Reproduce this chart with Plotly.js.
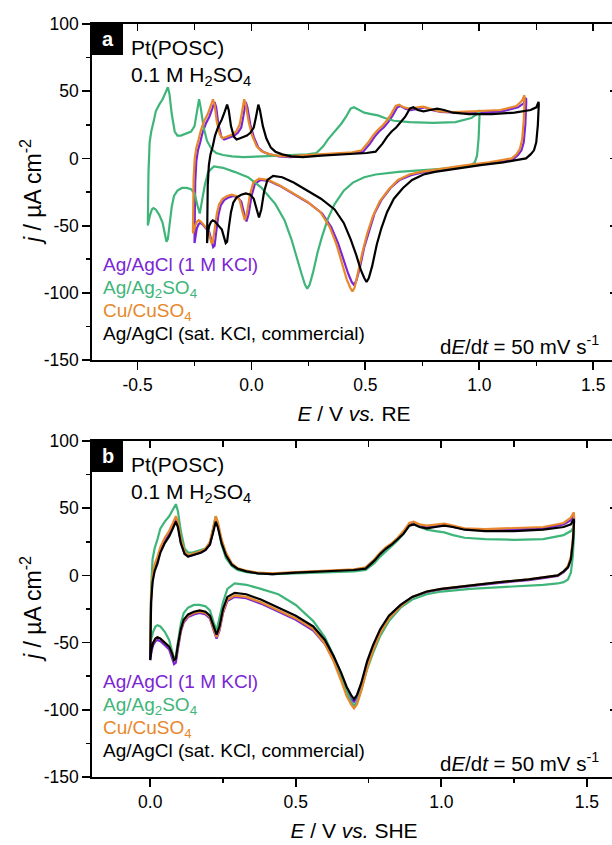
<!DOCTYPE html>
<html>
<head>
<meta charset="utf-8">
<script src="https://cdn.plot.ly/plotly-3.0.1.min.js"></script>
<style>
html,body{margin:0;padding:0;overflow:hidden;background:#fff;}
#chart{width:630px;height:845px;}
</style>
</head>
<body>
<div id="chart"></div>
<script>
// ---------------- DATA ----------------
// Potential sampling of the CV loop, vs SHE (anodic sweep 0 -> 1.455 V, then cathodic back to 0 V)
const E_SHE = [0.000,0.003,0.008,0.015,0.025,0.035,0.050,0.065,0.078,0.088,0.095,0.105,0.118,0.130,0.145,0.160,0.175,0.190,0.205,0.215,0.225,0.232,0.245,0.260,0.280,0.300,0.330,0.370,0.420,0.500,0.600,0.700,0.740,0.770,0.790,0.810,0.830,0.850,0.870,0.890,0.905,0.925,0.950,0.980,1.010,1.040,1.080,1.150,1.250,1.350,1.420,1.445,1.455,
  1.456,1.452,1.445,1.435,1.420,1.400,1.350,1.300,1.200,1.100,1.000,0.950,0.900,0.860,0.820,0.790,0.765,0.745,0.725,0.710,0.700,0.690,0.675,0.655,0.630,0.600,0.560,0.500,0.440,0.380,0.330,0.290,0.265,0.250,0.238,0.228,0.218,0.205,0.190,0.170,0.150,0.130,0.115,0.105,0.095,0.088,0.082,0.075,0.065,0.050,0.035,0.025,0.018,0.010,0.004,0.000];

// current density, µA cm^-2
const j_AgAgCl_1M = [-63,-18,-2,6,12,19,26,31,37,42,38,25,16,14,15,16,17,19,23,32,42,38,25,16,8,5,3,1.5,1,2,3,4,5,11,16,20,23,27,32,38,39,37,36,37,38,36,34.5,34,34,35,38,41,45,
  42,25,12,6,2.5,-0.5,-2,-3.5,-5.5,-8,-10.5,-12.5,-16,-22,-31,-41,-54,-66,-82,-91,-94,-92,-86,-75,-63,-51,-41,-33,-27,-21,-17,-16,-19,-28,-41,-47,-41,-32,-29,-28,-29,-31,-35,-42,-55,-65,-66,-61,-55,-52,-49,-48,-49,-52,-57,-63];
const j_AgAg2SO4 = [-50,-10,12,20,27,35,40,44,49,53,48,33,20,17,17,18,19,20,24,33,44,38,23,13,7,4,2.5,1.5,1,1.5,2,3,4,9,14,18,22,26,31,37,38,36,34,33,32,30,28,27,26.5,27,30,33,36,
  32,15,2,-3,-5,-6,-7,-7.5,-8.5,-10,-12,-14,-18,-24,-34,-45,-58,-70,-85,-94,-97,-94,-86,-74,-60,-46,-34,-22,-14,-10,-7,-6,-10,-20,-33,-41,-35,-26,-23,-22,-22,-24,-28,-36,-50,-60,-62,-56,-48,-42,-38,-37,-38,-42,-46,-50];
const j_CuCuSO4 = [-55,-15,0,8,14,21,28,33,39,44,40,27,18,15,16,17,18,20,25,34,44,40,27,17,9,5.5,3.5,2,1.5,2.5,3.5,4.5,6,12,17,21,24,28,33,39,40,38,37,38,38.5,37,35,34.5,35,36,39,43,47,
  44,28,14,7,3,0,-1.5,-3,-5,-7.5,-10,-12,-16,-23,-32,-43,-56,-69,-86,-96,-99,-96,-90,-78,-64,-51,-40,-32,-26,-20,-16,-15,-18,-27,-40,-46,-40,-31,-28,-27,-28,-30,-34,-41,-53,-62,-63,-58,-53,-50,-47,-46,-47,-50,-54,-56];
const j_AgAgCl_sat = [-63,-20,-5,3,9,17,24,29,35,40,36,24,16,14,15,16,17,19,23,31,40,36,24,15,8,5,3,1.5,1,2,3,4,5,11,16,20,23,27,31,37,38,36,35,36,37,36,34,33,33,34,36,38,42,
  40,25,12,6,3,0,-1.5,-3,-5,-7.5,-10,-12,-16,-22,-30,-40,-52,-64,-80,-89,-92,-89,-83,-72,-60,-48,-38,-30,-24,-18,-14,-13,-16,-25,-38,-44,-38,-30,-27,-26,-27,-29,-33,-40,-52,-62,-63,-58,-53,-50,-47,-46,-47,-50,-55,-63];

// reference electrodes and their potentials vs SHE (V)
const refNames = ["Ag/AgCl (1 M KCl)", "Ag/Ag<sub>2</sub>SO<sub>4</sub>", "Cu/CuSO<sub>4</sub>", "Ag/AgCl (sat. KCl, commercial)"];
const refOffsets = [0.250, 0.455, 0.257, 0.195];
const seriesJ = [j_AgAgCl_1M, j_AgAg2SO4, j_CuCuSO4, j_AgAgCl_sat];

// tick labels
const yTickVals = [100, 50, 0, -50, -100, -150];
const yTickText = ["100", "50", "0", "-50", "-100", "-150"];
const xTickValsA = [-0.5, 0.0, 0.5, 1.0, 1.5];
const xTickTextA = ["-0.5", "0.0", "0.5", "1.0", "1.5"];
const xTickValsB = [0.0, 0.5, 1.0, 1.5];
const xTickTextB = ["0.0", "0.5", "1.0", "1.5"];

// ---------------- STYLE / LAYOUT ----------------
const colors = ["#7B26D4", "#3FB57A", "#E8882C", "#000000"];
const W = 630, H = 845, ML = 92, MR = 14, MT = 24, MB = 68;
const PW = W - ML - MR, PH = H - MT - MB;
const px = x => (x - ML) / PW;
const py = y => (H - MB - y) / PH;
const DY = 417; // vertical offset of panel b

const data = [];
seriesJ.forEach((j, i) => {
  data.push({x: E_SHE.map(e => e - refOffsets[i]), y: j, xaxis: 'x', yaxis: 'y', mode: 'lines',
    line: {color: colors[i], width: 2.2}, hoverinfo: 'skip', name: refNames[i]});
});
seriesJ.forEach((j, i) => {
  data.push({x: E_SHE, y: j, xaxis: 'x3', yaxis: 'y3', mode: 'lines',
    line: {color: colors[i], width: 2.2}, hoverinfo: 'skip', name: refNames[i]});
});
data.push({x: [], y: [], xaxis: 'x2', yaxis: 'y2', hoverinfo: 'skip'});
data.push({x: [], y: [], xaxis: 'x4', yaxis: 'y4', hoverinfo: 'skip'});

const fontFam = 'Arial, "Liberation Sans", sans-serif';
const base = {showline: true, linecolor: '#000', linewidth: 1.8, showgrid: false, zeroline: false,
  tickcolor: '#000', tickwidth: 1.8, tickfont: {size: 17.5, color: '#000'}, fixedrange: true};

function xBottom(range, tv, tt, minorVals, title, anchor) {
  return Object.assign({}, base, {range: range, anchor: anchor, domain: [0, 1],
    tickmode: 'array', tickvals: tv, ticktext: tt, ticks: 'outside', ticklen: 8,
    minor: {tickmode: 'array', tickvals: minorVals, ticks: 'outside', ticklen: 4, tickwidth: 1.5, tickcolor: '#000'},
    title: {text: title, font: {size: 21}, standoff: 12}});
}
function yLeft(domain, anchor) {
  return Object.assign({}, base, {range: [-150, 100], domain: domain, anchor: anchor,
    tickmode: 'array', tickvals: yTickVals, ticktext: yTickText, ticks: 'outside', ticklen: 8,
    minor: {tickmode: 'array', tickvals: [-125, -75, -25, 25, 75], ticks: 'outside', ticklen: 4, tickwidth: 1.5, tickcolor: '#000'}});
}
function xTop(range, tv, minorVals, over, anchor) {
  return Object.assign({}, base, {range: range, overlaying: over, anchor: anchor, side: 'top',
    tickmode: 'array', tickvals: tv, ticks: 'inside', ticklen: 7, showticklabels: false,
    minor: {tickmode: 'array', tickvals: minorVals, ticks: 'inside', ticklen: 6, tickwidth: 1.5, tickcolor: '#000'}});
}
function yRight(over, anchor) {
  return Object.assign({}, base, {range: [-150, 100], overlaying: over, anchor: anchor, side: 'right',
    tickmode: 'array', tickvals: yTickVals, ticks: 'inside', ticklen: 6, showticklabels: false,
    minor: {tickmode: 'array', tickvals: [-125, -75, -25, 25, 75], ticks: 'inside', ticklen: 3, tickwidth: 1.5, tickcolor: '#000'}});
}

const rangeA = [-0.7, 1.6], rangeB = [-0.2, 1.6];
const minorA = [-0.25, 0.25, 0.75, 1.25], minorB = [0.25, 0.75, 1.25];

const annotations = [];
const shapes = [];
[['a', 0], ['b', DY]].forEach(([letter, dy]) => {
  shapes.push({type: 'rect', xref: 'paper', yref: 'paper', x0: px(92), x1: px(123), y0: py(55 + dy), y1: py(24 + dy),
    fillcolor: '#000', line: {width: 0}});
  const A = (text, x, y, size, color, xanchor, angle) => annotations.push({text: text, x: px(x), y: py(y), xref: 'paper', yref: 'paper',
    showarrow: false, xanchor: xanchor || 'left', yanchor: 'middle', textangle: angle || 0,
    font: {size: size, color: color || '#000', family: fontFam}});
  // y-axis title
  A('<i>j</i> / µA cm<sup>-2</sup>', 31, 192 + dy, 23, '#000', 'center', -90);
  A('<b>' + letter + '</b>', 107.5, 39 + dy, 20, '#fff', 'center');
  A('Pt(POSC)', 129, 48 + dy, 21);
  A('0.1 M H<sub>2</sub>SO<sub>4</sub>', 129, 76 + dy, 21);
  refNames.forEach((n, i) => A(n, 101, 264 + 23 * i + (i === 1 || i === 2 ? 2 : 0) + dy, 19, colors[i]));
  A('d<i>E</i>/d<i>t</i> = 50 mV s<sup>-1</sup>', 601, 345 + dy, 20.5, '#000', 'right');
});

const layout = {
  width: W, height: H, margin: {l: ML, r: MR, t: MT, b: MB, pad: 0},
  paper_bgcolor: '#fff', plot_bgcolor: '#fff', showlegend: false,
  font: {family: fontFam, color: '#000'},
  xaxis: xBottom(rangeA, xTickValsA, xTickTextA, minorA, '<i>E</i> / V <i>vs.</i> RE', 'y'),
  yaxis: yLeft([py(360), 1], 'x'),
  xaxis2: xTop(rangeA, xTickValsA, minorA, 'x', 'y'),
  yaxis2: yRight('y', 'x'),
  xaxis3: xBottom(rangeB, xTickValsB, xTickTextB, minorB, '<i>E</i> / V <i>vs.</i> SHE', 'y3'),
  yaxis3: yLeft([0, py(441)], 'x3'),
  xaxis4: xTop(rangeB, xTickValsB, minorB, 'x3', 'y3'),
  yaxis4: yRight('y3', 'x3'),
  annotations: annotations,
  shapes: shapes
};

Plotly.newPlot('chart', data, layout, {staticPlot: true, displayModeBar: false});
</script>
</body>
</html>
